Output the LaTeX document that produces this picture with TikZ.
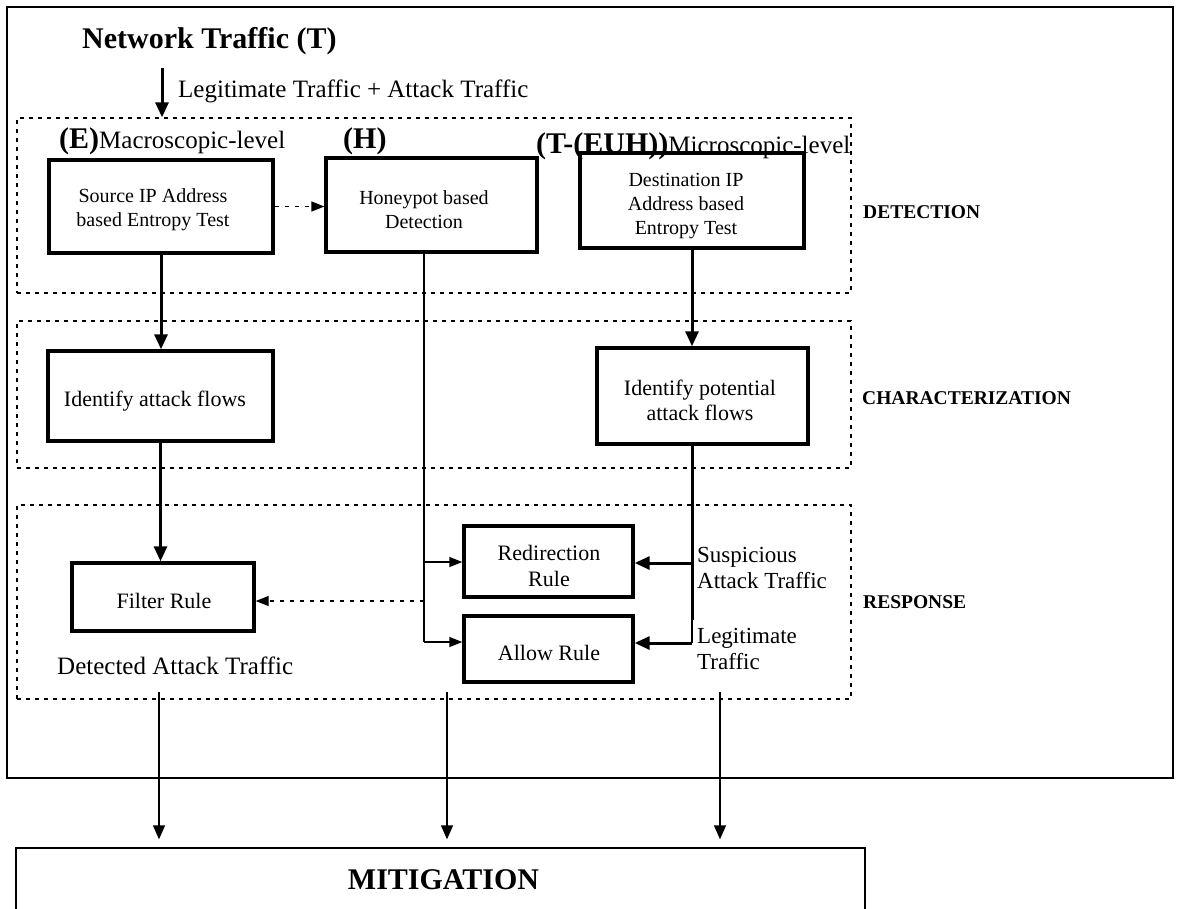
\documentclass[tikz,border=0pt]{standalone}
\usepackage{fontspec}
\setmainfont{Liberation Serif}
\usetikzlibrary{arrows.meta,calc}

\tikzset{
  box/.style={draw, line width=3.4pt, inner sep=0pt},
  boxtext/.style={inner sep=0pt, align=center, font=\fontsize{20}{24}\selectfont},
  bigtext/.style={inner sep=0pt, align=center, font=\fontsize{22}{25.5}\selectfont},
  zone/.style={draw, line width=1.4pt, dash pattern=on 4pt off 5pt, inner sep=0pt},
  frame/.style={draw, line width=1.4pt},
  heavy/.style={line width=3pt, -{Triangle[length=15pt,width=13pt]}},
  light/.style={line width=1.4pt, -{Triangle[length=13pt,width=10pt]}},
  drop/.style={line width=1.4pt, -{Triangle[length=14pt,width=12pt]}},
  plainline/.style={line width=1.4pt},
  dashlink/.style={line width=1.4pt, dash pattern=on 4pt off 6pt, -{Triangle[length=13pt,width=10pt]}},
  stage/.style={anchor=base west, inner sep=0pt, font=\bfseries\fontsize{19.5}{22}\selectfont},
  plain/.style={inner sep=0pt, font=\fontsize{25}{30}\selectfont},
  side/.style={inner sep=0pt, align=left, anchor=west, font=\fontsize{23}{26}\selectfont},
}

\begin{document}
\begin{tikzpicture}[x=1pt, y=-1pt]
\useasboundingbox (0,0) rectangle (1182,908);
\clip (0,0) rectangle (1182,908);

% outer frame
\node[frame, minimum width=1166pt, minimum height=771pt, inner sep=0pt] (outer) at (590,392.5) {};

% title and incoming traffic
\node[plain, anchor=base west, font=\bfseries\fontsize{30}{34}\selectfont] (title) at (82,48) {Network Traffic (T)};
\node[plain, anchor=base west] (mix) at (178,97) {Legitimate Traffic + Attack Traffic};

% stage zones
\node[zone, minimum width=834pt, minimum height=175pt] (det) at (434,205.5) {};
\node[zone, minimum width=834pt, minimum height=147pt] (char) at (434,394.5) {};
\node[zone, minimum width=834pt, minimum height=194pt] (resp) at (434,602) {};

\node[stage] (detlab) at (863,218.5) {DETECTION};
\node[stage] (charlab) at (862,404.5) {CHARACTERIZATION};
\node[stage] (resplab) at (863,608.5) {RESPONSE};

% level headings
\node[plain, anchor=base west] (elab) at (59,148) {\textbf{\fontsize{30}{34}\selectfont(E)}Macroscopic-level};
\node[plain, anchor=base west] (hlab) at (343,148) {\textbf{\fontsize{30}{34}\selectfont(H)}};
\node[plain, anchor=base west] (tlab) at (536,153) {\textbf{\fontsize{30}{34}\selectfont(T-(EUH))}Microscopic-level};

% detection boxes
\node[box, minimum width=224pt, minimum height=93pt] (src) at (161,206.5) {};
\node[box, minimum width=211pt, minimum height=94pt] (hon) at (431.5,205) {};
\node[box, minimum width=224pt, minimum height=95pt] (dst) at (692,200.5) {};
\node[boxtext] (srctext) at (153,210) {Source IP Address\\based Entropy Test};
\node[boxtext] (hontext) at (424,210) {Honeypot based\\Detection};
\node[boxtext] (dsttext) at (686,206) {Destination IP\\Address based\\Entropy Test};

% characterization boxes
\node[box, minimum width=225pt, minimum height=90pt] (idf) at (160.5,396) {};
\node[box, minimum width=211pt, minimum height=96pt] (pot) at (702.5,396) {};
\node[bigtext] (idftext) at (155,401) {Identify attack flows};
\node[bigtext] (pottext) at (700,400.5) {Identify potential\\attack flows};

% response boxes
\node[box, minimum width=182pt, minimum height=68pt] (flt) at (163,597) {};
\node[box, minimum width=169pt, minimum height=71pt] (red) at (548.5,561.5) {};
\node[box, minimum width=169pt, minimum height=66pt] (alw) at (548.5,649) {};
\node[bigtext] (flttext) at (164,600.5) {Filter Rule};
\node[bigtext] (redtext) at (549,566) {Redirection\\Rule};
\node[bigtext] (alwtext) at (549,653) {Allow Rule};

\node[plain, anchor=base west] (detected) at (57,674.5) {Detected Attack Traffic};
\node[side] (susp) at (697,568) {Suspicious\\Attack Traffic};
\node[side] (legit) at (697,649) {Legitimate\\Traffic};

% mitigation block (continues past the lower edge)
\node[frame, minimum width=849pt, minimum height=100pt, inner sep=0pt] (mit) at (440.5,898) {};
\node[inner sep=0pt, font=\bfseries\fontsize{30}{34}\selectfont] (mittext) at (443.5,880) {MITIGATION};

% connectors
\coordinate (ta) at (162,68);
\draw[heavy] (ta) -- (ta |- det.north);

\draw[dashlink] (src.east) -- (src.east -| hon.west);

\draw[heavy] (src.south) -- (src.south |- idf.north);
\draw[heavy] (idf.south) -- (idf.south |- flt.north);
\draw[heavy] (dst.south) -- (dst.south |- pot.north);

% honeypot branch
\coordinate (hj) at (424,642);
\draw[plainline] (hj |- hon.south) -- (hj);
\draw[light] (hj) -- (hj -| alw.west);
\draw[light] (hj |- 0,562) -- (red.west |- 0,562);
\draw[dashlink] (hj |- 0,601) -- (flt.east |- 0,601);

% potential attack flows split
\coordinate (rj) at (692,643);
\draw[line width=3pt] (rj |- pot.south) -- (rj |- 0,620);
\draw[line width=2pt] (rj |- 0,618) -- (rj);
\draw[heavy] (rj |- 0,563) -- (red.east |- 0,563);
\draw[heavy] (rj) -- (rj -| alw.east);

% outputs to mitigation
\coordinate (b1) at (159,692);
\coordinate (b2) at (447,692);
\coordinate (b3) at (720,692);
\draw[drop, shorten >=8pt] (b1) -- (b1 |- mit.north);
\draw[drop, shorten >=8pt] (b2) -- (b2 |- mit.north);
\draw[drop, shorten >=8pt] (b3) -- (b3 |- mit.north);
\end{tikzpicture}
\end{document}
